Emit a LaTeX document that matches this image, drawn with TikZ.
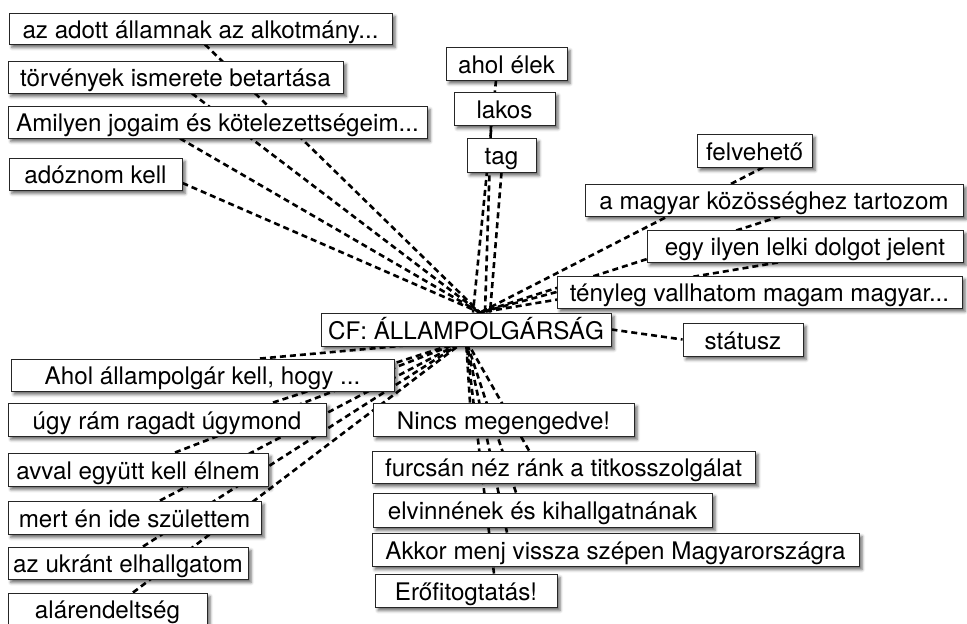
\documentclass[tikz,border=0pt]{standalone}
\usepackage{fontspec}
\setmainfont{TeX Gyre Heros}
\usetikzlibrary{calc,shadows.blur}
\pgfdeclarelayer{bg}
\pgfsetlayers{bg,main}
\tikzset{
  cbox/.style={draw=black!85, line width=0.9pt, fill=white, inner sep=0pt,
    minimum height=32pt, text height=21pt, text depth=2pt,
    font=\fontsize{24.2}{29}\selectfont,
    blur shadow={shadow xshift=3pt, shadow yshift=-3.5pt, shadow blur radius=3pt, shadow opacity=60}},
  link/.style={line width=2.6pt, dash pattern=on 6pt off 4pt, black}
}
\begin{document}
\begin{tikzpicture}[x=1pt,y=-1pt]
\useasboundingbox (0,0) rectangle (967,624);
% upper left
\node[cbox, minimum width=383pt, minimum height=31pt] (adott) at (200.5,28.5) {az adott államnak az alkotmány...};
\node[cbox, minimum width=335pt] (torv) at (175.5,77) {törvények ismerete betartása};
\node[cbox, minimum width=419pt] (amil) at (217.5,122) {Amilyen jogaim és kötelezettségeim...};
\node[cbox, minimum width=173pt] (adoz) at (95.5,174) {adóznom kell};
% top
\node[cbox, minimum width=121pt, minimum height=33pt] (ahol) at (506.5,63.5) {ahol élek};
\node[cbox, minimum width=101pt, minimum height=33pt] (lakos) at (504.5,108.5) {lakos};
\node[cbox, minimum width=69pt, minimum height=34pt] (tag) at (501.5,155) {tag};
% right
\node[cbox, minimum width=115pt, minimum height=33pt] (felv) at (754.5,150.5) {felvehető};
\node[cbox, minimum width=378pt] (magyar) at (774,200) {a magyar közösséghez tartozom};
\node[cbox, minimum width=316pt] (egy) at (805,246) {egy ilyen lelki dolgot jelent};
\node[cbox, minimum width=405pt] (teny) at (759.5,292) {tényleg vallhatom magam magyar...};
% centre
\node[cbox, minimum width=290pt, minimum height=33pt] (cf) at (466,329.5) {CF: ÁLLAMPOLGÁRSÁG};
\node[cbox, minimum width=120pt, minimum height=33pt] (status) at (743,339.5) {státusz};
% lower left
\node[cbox, minimum width=383pt] (ahol2) at (202.5,375) {Ahol állampolgár kell, hogy ...};
\node[cbox, minimum width=318pt, minimum height=33pt] (ugy) at (167,419.5) {úgy rám ragadt úgymond};
\node[cbox, minimum width=260pt, minimum height=33pt] (avval) at (138,469.5) {avval együtt kell élnem};
\node[cbox, minimum width=253pt, minimum height=33pt] (mert) at (134.5,517.5) {mert én ide születtem};
\node[cbox, minimum width=240pt] (ukr) at (128,563) {az ukránt elhallgatom};
\node[cbox, minimum width=199pt] (alar) at (107.5,609) {alárendeltség};
% lower centre
\node[cbox, minimum width=261pt, minimum height=33pt] (nincs) at (503.5,419.5) {Nincs megengedve!};
\node[cbox, minimum width=383pt] (furcs) at (563.5,467) {furcsán néz ránk a titkosszolgálat};
\node[cbox, minimum width=339pt, minimum height=34pt] (elv) at (542.5,510) {elvinnének és kihallgatnának};
\node[cbox, minimum width=487pt, minimum height=33pt] (akkor) at (615.5,549.5) {Akkor menj vissza szépen Magyarországra};
\node[cbox, minimum width=182pt, minimum height=33pt] (ero) at (466,590.5) {Erőfitogtatás!};

\begin{pgfonlayer}{bg}
\coordinate (T) at ($(cf.north)+(14,0)$);
\coordinate (B) at ($(cf.center)+(0,10.5)$);
\draw[link] ($(adott.south)+(4.5,0)$) -- (T);
\draw[link] ($(torv.south)+(16.5,0)$) -- (T);
\draw[link] ($(amil.south)+(-37.5,0)$) -- (T);
\draw[link] ($(adoz.east)+(0,9)$) -- (T);
\draw[link] ($(ahol.south)+(-10.5,0)$) -- ($(cf.north)+(7,0)$);
\draw[link] ($(lakos.south)+(-13.5,0)$) -- ($(cf.north)+(19,0)$);
\draw[link] (tag.south) -- ($(cf.north)+(24,0)$);
\draw[link] ($(felv.south)+(8.5,0)$) -- (T);
\draw[link] ($(magyar.south)+(6,0)$) -- (T);
\draw[link] ($(egy.south)+(-27,0)$) -- (T);
\draw[link] (teny.west) -- (T);
\draw[link] (cf.east) -- (status.west);
\draw[link] ($(ahol2.north)+(57.5,0)$) -- (B);
\draw[link] ($(ugy.north)+(106,0)$) -- (B);
\draw[link] ($(avval.north)+(37,0)$) -- (B);
\draw[link] ($(mert.north)+(25.5,0)$) -- (B);
\draw[link] ($(ukr.north)+(15,0)$) -- (B);
\draw[link] ($(alar.north)+(25.5,0)$) -- (B);
\draw[link] ($(nincs.north)+(-33.5,0)$) -- (B);
\draw[link] ($(furcs.north)+(-34.5,0)$) -- (B);
\draw[link] ($(elv.north)+(-26.5,0)$) -- (B);
\draw[link] ($(akkor.north)+(-108.5,0)$) -- (B);
\draw[link] ($(ero.north)+(28,0)$) -- (B);
\end{pgfonlayer}
\end{tikzpicture}
\end{document}
